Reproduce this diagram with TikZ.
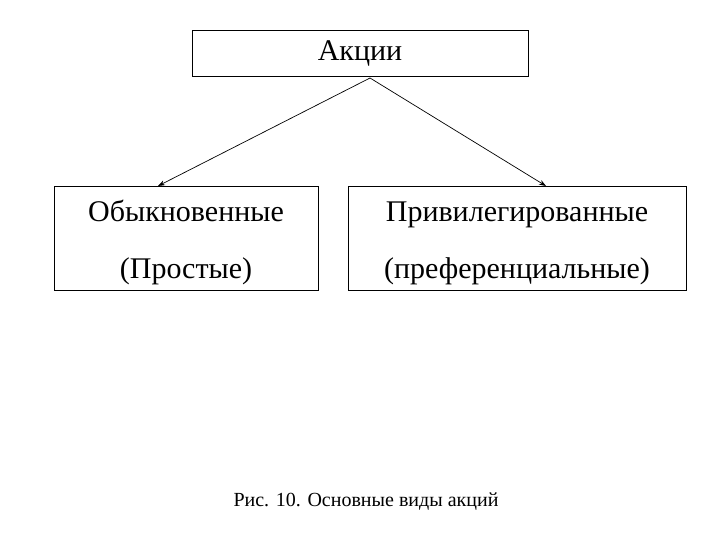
\documentclass[tikz,border=0pt]{standalone}
\usepackage{fontspec}
\setmainfont{Liberation Serif}
\newfontfamily\tms{Liberation Serif}
\usetikzlibrary{arrows.meta}
\begin{document}
\begin{tikzpicture}[x=1pt,y=-1pt,
  box/.style={draw,line width=0.8pt},
  lbl/.style={font=\tms\fontsize{30}{34}\selectfont,inner sep=0pt},
  arr/.style={-{Stealth[length=7pt,width=5pt]},line width=0.7pt}]
\useasboundingbox (0,0) rectangle (720,540);
\draw[box] (192,30) rectangle (528,76);
\node[lbl] (top) at (360,54) {Акции};
\coordinate (src) at (370,78);
\draw[box] (54,186) rectangle (318,290);
\draw[box] (348,186) rectangle (686,290);
\coordinate (lt) at (158,186);
\coordinate (rt) at (546,186);
\node[lbl,anchor=base] (l1) at (186,222) {Обыкновенные};
\node[lbl,anchor=base] (l2) at (186,278) {(Простые)};
\node[lbl,anchor=base] (r1) at (517,222) {Привилегированные};
\node[lbl,anchor=base] (r2) at (517,278) {(преференциальные)};
\draw[arr] (src) -- (lt);
\draw[arr] (src) -- (rt);
\node[font=\tms\fontsize{20}{24}\selectfont,anchor=base] (cap) at (366,506) {Рис. 10. Основные виды акций};
\end{tikzpicture}
\end{document}
